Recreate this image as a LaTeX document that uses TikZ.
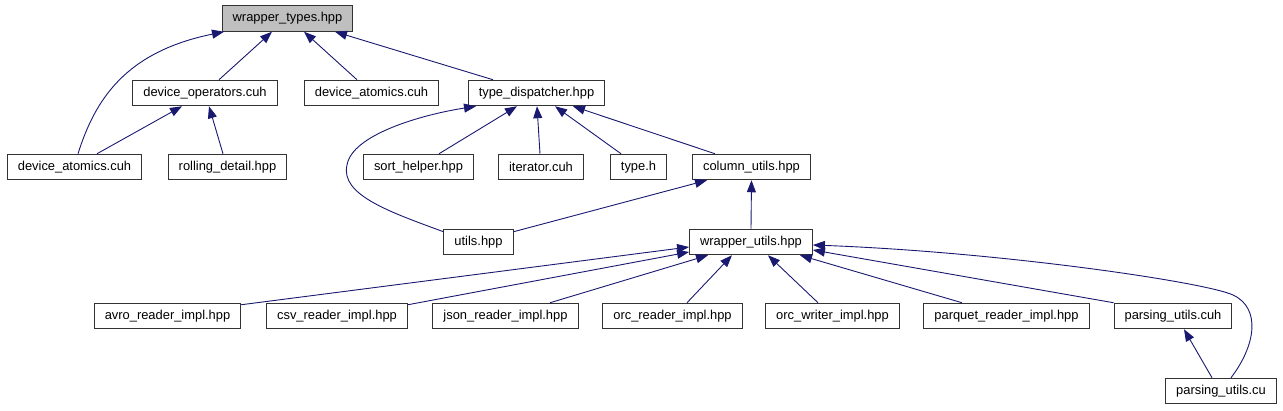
\documentclass[tikz,border=0pt]{standalone}
\usepackage{fontspec}
\setmainfont{Liberation Sans}
\usetikzlibrary{arrows.meta}
\definecolor{EdgeBlue}{HTML}{191970}
\definecolor{RootGray}{HTML}{BFBFBF}
\definecolor{BoxLine}{HTML}{333333}
\tikzset{
  file/.style={draw=BoxLine, line width=1pt, fill=white, inner xsep=10.5pt, inner ysep=0pt, minimum height=25.5pt, font=\fontsize{12.9}{15}\selectfont},
  rootfile/.style={file, fill=RootGray},
  incl/.style={-{Triangle[length=12pt, width=9pt]}, line width=0.9pt, draw=EdgeBlue}
}
\begin{document}
\begin{tikzpicture}[x=1pt, y=-1pt]
\useasboundingbox (0,0) rectangle (1283,411);

% top
\node[rootfile] (wt) at (287.5,18.5) {wrapper\_types.hpp};

% second row
\node[file] (dop) at (205,93) {device\_operators.cuh};
\node[file] (datop) at (371.5,93) {device\_atomics.cuh};
\node[file] (td) at (536.5,93) {type\_dispatcher.hpp};

% third row
\node[file] (dal) at (74.5,167) {device\_atomics.cuh};
\node[file] (rd) at (227.5,167) {rolling\_detail.hpp};
\node[file] (sh) at (418.5,167) {sort\_helper.hpp};
\node[file] (it) at (541,167) {iterator.cuh};
\node[file] (th) at (638.5,167) {type.h};
\node[file] (cu) at (751.5,167) {column\_utils.hpp};

% fourth row
\node[file] (ut) at (478.5,242) {utils.hpp};
\node[file] (wu) at (751,242) {wrapper\_utils.hpp};

% readers
\node[file] (avro) at (167.5,316) {avro\_reader\_impl.hpp};
\node[file] (csv) at (337,316) {csv\_reader\_impl.hpp};
\node[file] (json) at (505.5,316) {json\_reader\_impl.hpp};
\node[file] (orcr) at (672.5,316) {orc\_reader\_impl.hpp};
\node[file] (orcw) at (832.5,316) {orc\_writer\_impl.hpp};
\node[file] (pq) at (1006.5,316) {parquet\_reader\_impl.hpp};
\node[file] (puh) at (1173,316) {parsing\_utils.cuh};
\node[file] (pu) at (1221,391) {parsing\_utils.cu};

% edges to wrapper_types
\draw[incl] ([xshift=3.5pt]dal.north) .. controls (95,100) and (125,52) .. ([xshift=-63.5pt]wt.south);
\draw[incl] ([xshift=14pt]dop.north) -- ([xshift=-15.5pt]wt.south);
\draw[incl] ([xshift=-14.5pt]datop.north) -- ([xshift=16.5pt]wt.south);
\draw[incl] ([xshift=-43.5pt]td.north) -- ([xshift=47.5pt]wt.south);

% edges to device_operators
\draw[incl] ([xshift=22.5pt]dal.north) -- ([xshift=-23pt]dop.south);
\draw[incl] ([xshift=-4.5pt]rd.north) -- ([xshift=4pt]dop.south);

% edges to type_dispatcher
\draw[incl] ([yshift=-3pt]ut.north west) .. controls (390,212) and (340,195) .. (347,165)
  .. controls (352,135) and (420,115) .. ([xshift=-60.5pt]td.south);
\draw[incl] ([xshift=20.5pt]sh.north) -- ([xshift=-19.5pt]td.south);
\draw[incl] ([xshift=-1pt]it.north) -- ([xshift=0.5pt]td.south);
\draw[incl] ([xshift=-17.5pt]th.north) -- ([xshift=18.5pt]td.south);
\draw[incl] ([xshift=-36.5pt]cu.north) -- ([xshift=36.5pt]td.south);

% edges to column_utils
\draw[incl] ([yshift=-3pt]ut.north east) -- ([xshift=-44.5pt]cu.south);
\draw[incl] (wu.north) -- (cu.south);

% edges to wrapper_utils
\draw[incl] ([yshift=-2pt]avro.north east) -- ([yshift=-5pt]wu.west);
\draw[incl] ([yshift=-2pt]csv.north east) -- ([yshift=-10pt]wu.west);
\draw[incl] ([xshift=44.5pt]json.north) -- ([xshift=-43pt]wu.south);
\draw[incl] ([xshift=14.5pt]orcr.north) -- ([xshift=-19pt]wu.south);
\draw[incl] ([xshift=-14.5pt]orcw.north) -- ([xshift=17pt]wu.south);
\draw[incl] ([xshift=-44.5pt]pq.north) -- ([xshift=49pt]wu.south);
\draw[incl] (puh.north west) -- ([yshift=-8pt]wu.east);
\draw[incl] ([xshift=10pt]pu.north) .. controls (1256,345) and (1261,308) .. (1233,295)
  .. controls (1205,282) and (1000,252) .. ([yshift=-3pt]wu.east);

% edge to parsing_utils.cuh
\draw[incl] ([xshift=-9pt]pu.north) -- ([xshift=11pt]puh.south);
\end{tikzpicture}
\end{document}
